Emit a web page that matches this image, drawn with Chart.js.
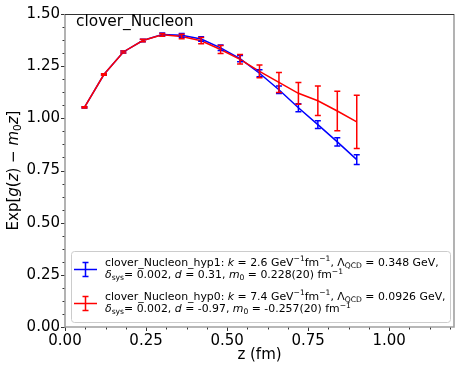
<!DOCTYPE html>
<html>
<head>
<meta charset="utf-8">
<script src="https://cdn.jsdelivr.net/npm/chart.js@4.4.1/dist/chart.umd.min.js"></script>
<style>
  html, body { margin: 0; padding: 0; background: #fff; }
</style>
</head>
<body>
<canvas id="chart" width="463" height="372"></canvas>
<script>
// z (fm) for each lattice point
const zValues = [0.06, 0.12, 0.18, 0.24, 0.30, 0.36, 0.42, 0.48, 0.54, 0.60, 0.66, 0.72, 0.78, 0.84, 0.90];

// clover_Nucleon_hyp1 (blue)
const hyp1Values = [1.052, 1.210, 1.318, 1.373, 1.402, 1.398, 1.380, 1.338, 1.286, 1.216, 1.137, 1.051, 0.970, 0.887, 0.802];
const hyp1Errors = [0.003, 0.004, 0.005, 0.006, 0.007, 0.009, 0.011, 0.013, 0.015, 0.017, 0.018, 0.019, 0.019, 0.020, 0.023];

// clover_Nucleon_hyp0 (red)
const hyp0Values = [1.052, 1.210, 1.318, 1.373, 1.400, 1.392, 1.372, 1.330, 1.283, 1.225, 1.172, 1.120, 1.084, 1.035, 0.983];
const hyp0Errors = [0.003, 0.004, 0.005, 0.006, 0.007, 0.011, 0.015, 0.019, 0.023, 0.030, 0.048, 0.052, 0.071, 0.095, 0.128];

const xTicks = [0, 0.25, 0.5, 0.75, 1.0];
const yTicks = [0, 0.25, 0.5, 0.75, 1.0, 1.25, 1.5];
const minorStep = 0.0625;

const FONT = "'DejaVu Sans', sans-serif";

// text pieces: [text, style]  style: '' normal, 'i' italic, 'sub', 'sup'
const yTitle = [['Exp[', ''], ['g', 'i'], ['(', ''], ['z', 'i'], [') \u2212 ', ''], ['m', 'i'], ['0', 'sub'], ['z', 'i'], [']', '']];

const legendEntries = [
    {
        color: '#0000ff',
        lines: [
            [['clover_Nucleon_hyp1: ', ''], ['k', 'i'], [' = 2.6 GeV', ''], ['\u22121', 'sup'], ['fm', ''], ['\u22121', 'sup'], [', \u039b', ''], ['QCD', 'sub'], [' = 0.348 GeV,', '']],
            [['\u03b4', 'i'], ['sys', 'sub'], ['= 0.002, ', ''], ['d', 'i'], [' = 0.31, ', ''], ['m', 'i'], ['0', 'sub'], [' = 0.228(20) fm', ''], ['\u22121', 'sup']]
        ]
    },
    {
        color: '#ff0000',
        lines: [
            [['clover_Nucleon_hyp0: ', ''], ['k', 'i'], [' = 7.4 GeV', ''], ['\u22121', 'sup'], ['fm', ''], ['\u22121', 'sup'], [', \u039b', ''], ['QCD', 'sub'], [' = 0.0926 GeV,', '']],
            [['\u03b4', 'i'], ['sys', 'sub'], ['= 0.002, ', ''], ['d', 'i'], [' = -0.97, ', ''], ['m', 'i'], ['0', 'sub'], [' = -0.257(20) fm', ''], ['\u22121', 'sup']]
        ]
    }
];

function segFont(style, size) {
    if (style === 'i') return 'italic ' + size + 'px ' + FONT;
    if (style === 'sub' || style === 'sup') return (size * 0.7).toFixed(1) + 'px ' + FONT;
    return size + 'px ' + FONT;
}

function richWidth(ctx, segs, size) {
    let w = 0;
    segs.forEach(([t, s]) => { ctx.font = segFont(s, size); w += ctx.measureText(t).width; });
    return w;
}

function drawRich(ctx, segs, x, y, size) {
    ctx.textBaseline = 'alphabetic';
    ctx.textAlign = 'left';
    segs.forEach(([t, s]) => {
        ctx.font = segFont(s, size);
        let dy = 0;
        if (s === 'sub') dy = size * 0.22;
        if (s === 'sup') dy = -size * 0.38;
        ctx.fillText(t, x, y + dy);
        x += ctx.measureText(t).width;
    });
}

function drawErrBar(ctx, x, yTop, yBot, cap) {
    ctx.beginPath();
    ctx.moveTo(x, yTop); ctx.lineTo(x, yBot);
    ctx.moveTo(x - cap, yTop); ctx.lineTo(x + cap, yTop);
    ctx.moveTo(x - cap, yBot); ctx.lineTo(x + cap, yBot);
    ctx.stroke();
}

const errorBars = {
    id: 'errorBars',
    afterDatasetsDraw(chart) {
        const { ctx, scales: { x, y } } = chart;
        ctx.save();
        chart.data.datasets.forEach(ds => {
            ctx.strokeStyle = ds.borderColor;
            ctx.lineWidth = 1.5;
            ds.data.forEach((p, i) => {
                const px = x.getPixelForValue(p.x);
                drawErrBar(ctx, px, y.getPixelForValue(p.y + ds.errors[i]), y.getPixelForValue(p.y - ds.errors[i]), 3);
            });
        });
        ctx.restore();
    }
};

const frameAndText = {
    id: 'frameAndText',
    afterDraw(chart) {
        const { ctx, chartArea: a, scales: { x, y } } = chart;
        ctx.save();

        // ticks
        ctx.strokeStyle = '#333';
        ctx.lineWidth = 1;
        for (let v = 0; v <= 1.2 + 1e-9; v += minorStep) {
            const px = Math.round(x.getPixelForValue(v)) + 0.5;
            const major = xTicks.some(t => Math.abs(t - v) < 1e-6);
            ctx.beginPath(); ctx.moveTo(px, a.bottom); ctx.lineTo(px, a.bottom + (major ? 4 : 2.5)); ctx.stroke();
        }
        for (let v = 0; v <= 1.5 + 1e-9; v += minorStep) {
            const py = Math.round(y.getPixelForValue(v)) + 0.5;
            const major = yTicks.some(t => Math.abs(t - v) < 1e-6);
            ctx.beginPath(); ctx.moveTo(a.left, py); ctx.lineTo(a.left - (major ? 4 : 2.5), py); ctx.stroke();
        }

        // frame
        ctx.strokeStyle = '#a0a0a0';
        ctx.lineWidth = 1.6;
        ctx.beginPath();
        ctx.moveTo(a.left, a.top); ctx.lineTo(a.left, a.bottom); ctx.lineTo(a.right, a.bottom); ctx.lineTo(a.right, a.top);
        ctx.stroke();
        ctx.strokeStyle = '#333';
        ctx.lineWidth = 1;
        ctx.beginPath(); ctx.moveTo(a.left, a.top + 0.5); ctx.lineTo(a.right, a.top + 0.5); ctx.stroke();

        ctx.fillStyle = '#000';
        // panel label
        ctx.font = '15.4px ' + FONT;
        ctx.textAlign = 'left';
        ctx.textBaseline = 'alphabetic';
        ctx.fillText('clover_Nucleon', 76, 26);

        // y axis title
        ctx.save();
        ctx.translate(13, (a.top + a.bottom) / 2);
        ctx.rotate(-Math.PI / 2);
        const w = richWidth(ctx, yTitle, 15);
        drawRich(ctx, yTitle, -w / 2, 5, 15);
        ctx.restore();

        // legend box
        const lx = 71, ly = 251, lw = 379, lh = 71, r = 3;
        ctx.fillStyle = 'rgba(255,255,255,0.8)';
        ctx.strokeStyle = '#cccccc';
        ctx.lineWidth = 1;
        ctx.beginPath();
        ctx.roundRect(lx + 0.5, ly + 0.5, lw, lh, r);
        ctx.fill();
        ctx.stroke();

        const size = 10.9;
        legendEntries.forEach((e, k) => {
            const base = 265.5 + k * 34;
            const cy = base + 4;
            ctx.strokeStyle = e.color;
            ctx.lineWidth = 1.5;
            ctx.beginPath(); ctx.moveTo(74, cy); ctx.lineTo(97, cy); ctx.stroke();
            drawErrBar(ctx, 85.5, cy - 7, cy + 7, 3);
            ctx.fillStyle = '#000';
            e.lines.forEach((segs, j) => drawRich(ctx, segs, 105, base + j * 12.5, size));
        });

        ctx.restore();
    }
};

const tickFont = { family: FONT, size: 15 };

new Chart(document.getElementById('chart'), {
    type: 'line',
    data: {
        datasets: [
            {
                label: 'clover_Nucleon_hyp1',
                data: zValues.map((z, i) => ({ x: z, y: hyp1Values[i] })),
                errors: hyp1Errors,
                borderColor: '#0000ff',
                borderWidth: 1.5,
                pointRadius: 0,
                fill: false,
                order: 1
            },
            {
                label: 'clover_Nucleon_hyp0',
                data: zValues.map((z, i) => ({ x: z, y: hyp0Values[i] })),
                errors: hyp0Errors,
                borderColor: '#ff0000',
                borderWidth: 1.5,
                pointRadius: 0,
                fill: false,
                order: 0
            }
        ]
    },
    options: {
        responsive: false,
        animation: false,
        layout: { padding: { top: 11, right: 9, left: 0, bottom: 0 } },
        plugins: {
            legend: { display: false },
            tooltip: { enabled: false }
        },
        scales: {
            x: {
                type: 'linear',
                min: 0,
                max: 1.2,
                afterBuildTicks: s => { s.ticks = xTicks.map(v => ({ value: v })); },
                afterFit: s => { s.height = 45; },
                grid: { display: false, drawTicks: false },
                border: { display: false },
                ticks: {
                    color: '#000', font: tickFont, padding: 5, maxRotation: 0, autoSkip: false,
                    callback: v => v.toFixed(2)
                },
                title: {
                    display: true, text: 'z (fm)', color: '#000', font: tickFont,
                    padding: { top: 0, bottom: 8 }
                }
            },
            y: {
                type: 'linear',
                min: 0,
                max: 1.5,
                afterBuildTicks: s => { s.ticks = yTicks.map(v => ({ value: v })); },
                afterFit: s => { s.width = 65; },
                grid: { display: false, drawTicks: false },
                border: { display: false },
                ticks: {
                    color: '#000', font: tickFont, padding: 5, autoSkip: false,
                    callback: v => v.toFixed(2)
                }
            }
        }
    },
    plugins: [errorBars, frameAndText]
});
</script>
</body>
</html>
